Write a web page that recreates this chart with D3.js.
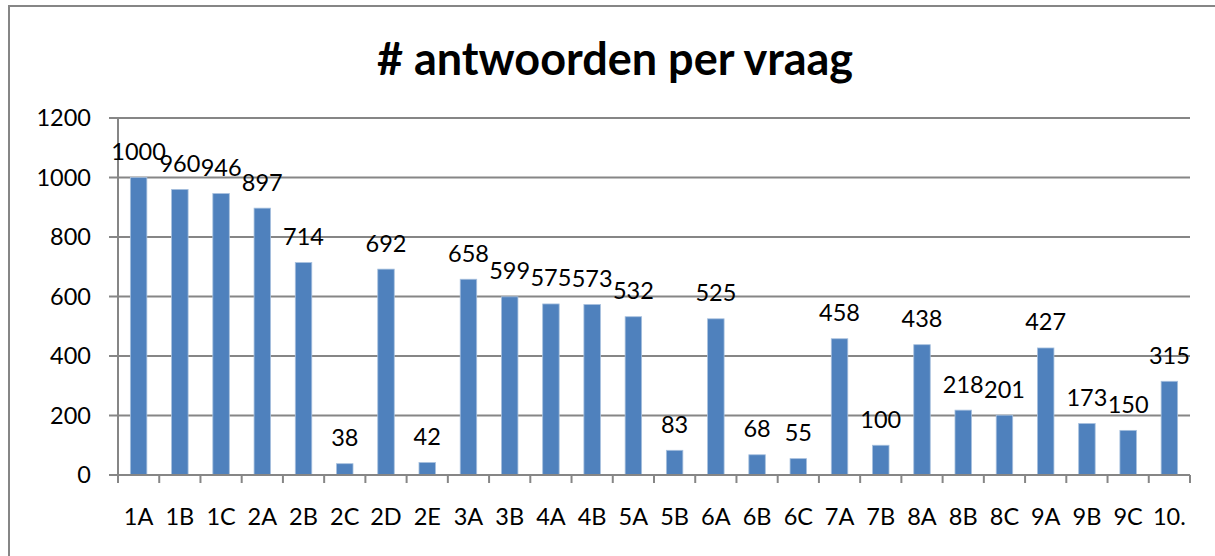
<!DOCTYPE html>
<html><head><meta charset="utf-8">
<script src="https://cdn.jsdelivr.net/npm/d3@7"></script>
<style>
html,body{margin:0;padding:0;background:#fff;}
svg{display:block;}
text{font-family:Lato,"Open Sans",sans-serif;fill:#000;}
</style></head>
<body>
<svg id="c" width="1215" height="556"></svg>
<script>
const categories = ["1A","1B","1C","2A","2B","2C","2D","2E","3A","3B","4A","4B","5A","5B","6A","6B","6C","7A","7B","8A","8B","8C","9A","9B","9C","10."];
const values = [1000,960,946,897,714,38,692,42,658,599,575,573,532,83,525,68,55,458,100,438,218,201,427,173,150,315];
const yTicks = [0,200,400,600,800,1000,1200];
const title = "# antwoorden per vraag";

(function(){
const svg = d3.select("#c");
const pL = 118, pR = 1190, pT = 118, pB = 475;
const fs = 23.5;

svg.append("rect").attr("x",9).attr("y",6).attr("width",1230).attr("height",600)
  .attr("fill","none").attr("stroke","#868686").attr("stroke-width",2);

const x = d3.scaleBand().domain(categories).range([pL,pR]).paddingInner(0.6).paddingOuter(0.3);
const y = d3.scaleLinear().domain([0,1200]).range([pB,pT]);

svg.append("g").selectAll("line").data(yTicks).join("line")
  .attr("x1",109).attr("x2",pR).attr("y1",d=>y(d)).attr("y2",d=>y(d))
  .attr("stroke","#868686").attr("stroke-width",2);
svg.append("g").selectAll("text").data(yTicks).join("text")
  .attr("x",91).attr("y",d=>y(d)).attr("dy","0.36em").attr("text-anchor","end")
  .attr("font-size",fs).text(d=>d);

svg.append("line").attr("x1",pL).attr("x2",pL).attr("y1",pT).attr("y2",pB)
  .attr("stroke","#868686").attr("stroke-width",2);

const step = x.step();
const bounds = d3.range(categories.length+1).map(i=>pL + i*step);
svg.append("g").selectAll("line").data(bounds).join("line")
  .attr("x1",d=>d).attr("x2",d=>d).attr("y1",pB).attr("y2",pB+8)
  .attr("stroke","#868686").attr("stroke-width",2);

svg.append("g").selectAll("rect").data(values).join("rect")
  .attr("x",(d,i)=>x(categories[i])).attr("width",x.bandwidth())
  .attr("y",d=>y(d)).attr("height",d=>pB-y(d))
  .attr("fill","#4F81BD").attr("stroke","#a7c0de").attr("stroke-width",0.8);

svg.append("line").attr("x1",109).attr("x2",pR).attr("y1",pB).attr("y2",pB)
  .attr("stroke","#868686").attr("stroke-width",2);

svg.append("g").selectAll("text").data(values).join("text")
  .attr("x",(d,i)=>x(categories[i])+x.bandwidth()/2).attr("y",d=>y(d)-26).attr("dy","0.36em")
  .attr("text-anchor","middle").attr("font-size",fs).text(d=>d);

svg.append("g").selectAll("text").data(categories).join("text")
  .attr("x",d=>x(d)+x.bandwidth()/2).attr("y",517).attr("dy","0.36em")
  .attr("text-anchor","middle").attr("font-size",fs).text(d=>d);

svg.append("text").attr("x",615).attr("y",75).attr("text-anchor","middle")
  .attr("font-size",45).attr("font-weight","bold").text(title);
})();
</script>
</body></html>
